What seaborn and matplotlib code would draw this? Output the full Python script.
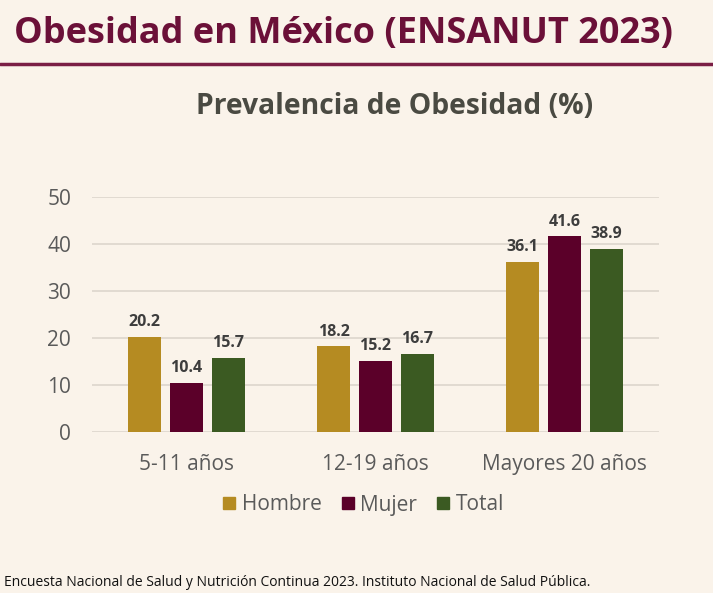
import matplotlib
matplotlib.use("Agg")
import matplotlib.pyplot as plt
import seaborn as sns
import pandas as pd
from matplotlib.lines import Line2D

categories = ["5-11 años", "12-19 años", "Mayores 20 años"]
series_names = ["Hombre", "Mujer", "Total"]
hombre = [20.2, 18.2, 36.1]
mujer = [10.4, 15.2, 41.6]
total = [15.7, 16.7, 38.9]
yticks = [0, 10, 20, 30, 40, 50]

colors = ["#b58b22", "#5b0029", "#3b5a22"]
bg = "#faf3ea"

rows = []
for name, vals in zip(series_names, [hombre, mujer, total]):
    for c, v in zip(categories, vals):
        rows.append({"Grupo": c, "Serie": name, "Valor": v})
df = pd.DataFrame(rows)

sns.set_theme(style="white")
plt.rcParams['font.family'] = ['Open Sans', 'DejaVu Sans']

fig = plt.figure(figsize=(7.13, 5.93), dpi=100, facecolor=bg)
W, H = 713, 593
ax = fig.add_axes([92 / W, 1 - 432 / H, (659 - 92) / W, (432 - 197) / H])
ax.set_facecolor(bg)

sns.barplot(data=df, x="Grupo", y="Valor", hue="Serie", order=categories,
            hue_order=series_names, palette=colors, width=0.667, gap=0.235,
            saturation=1, ax=ax, legend=False, zorder=3, linewidth=0)

for cont in ax.containers:
    ax.bar_label(cont, fmt="%.1f", padding=5, fontsize=11.5, fontweight="bold",
                 color="#3d3d3d")

ax.set_ylim(0, 50)
ax.set_xlim(-0.5, 2.5)
ax.set_yticks(yticks)
ax.yaxis.grid(True, color="#dcd5cc", linewidth=1.2, zorder=0)
ax.set_axisbelow(True)
for s in ax.spines.values():
    s.set_visible(False)
ax.set_xlabel("")
ax.set_ylabel("")
ax.tick_params(axis="y", labelsize=15, labelcolor="#5a5a5a", length=0, pad=15)
ax.tick_params(axis="x", labelsize=15, labelcolor="#5a5a5a", length=0, pad=16)

# legend
handles = [Line2D([0], [0], marker="s", linestyle="", markersize=9,
                  markerfacecolor=c, markeredgecolor=c) for c in colors]
fig.legend(handles, series_names, loc="center", bbox_to_anchor=(362 / W, 1 - 505 / H),
           ncol=3, frameon=False, fontsize=15, labelcolor="#5a5a5a",
           handletextpad=0.15, columnspacing=0.8, handlelength=0.9)

# titles
fig.text(14 / W, 1 - 34 / H, "Obesidad en México (ENSANUT 2023)", fontsize=26,
         fontweight="bold", color="#6b1038", va="center", ha="left")
fig.add_artist(Line2D([0, 1], [1 - 64 / H, 1 - 64 / H], color="#7a1e45",
                      linewidth=2.5, transform=fig.transFigure))
fig.text(395 / W, 1 - 107 / H, "Prevalencia de Obesidad (%)", fontsize=20.3,
         fontweight="bold", color="#4a4a42", va="center", ha="center")
fig.text(4 / W, 1 - 583 / H,
         "Encuesta Nacional de Salud y Nutrición Continua 2023. Instituto Nacional de Salud Pública.",
         fontsize=10, color="#111111", va="center", ha="left")

fig.savefig("out.png", dpi=100, facecolor=bg)
